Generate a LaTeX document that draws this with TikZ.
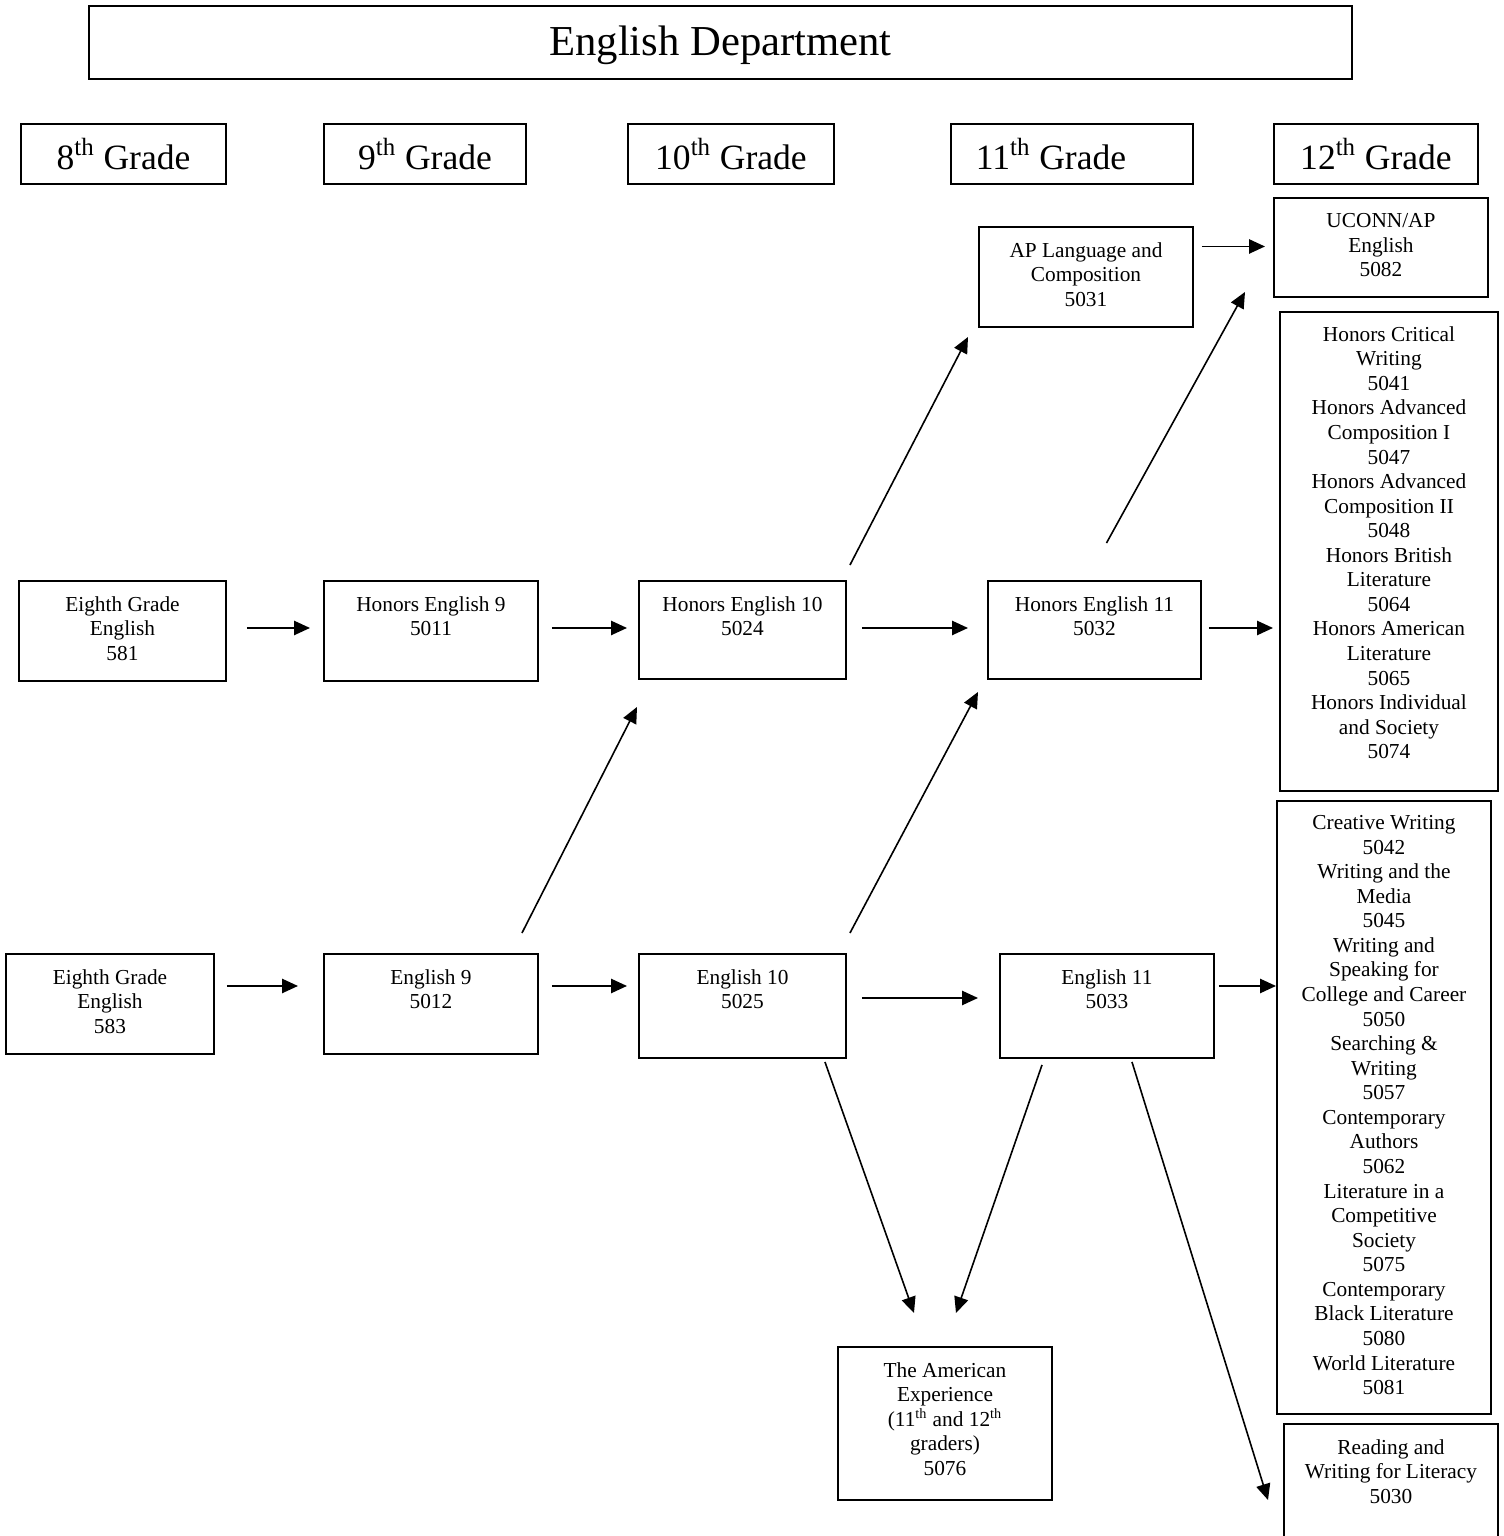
\documentclass[tikz,border=0pt]{standalone}
\usepackage{fontspec}
\setmainfont{Liberation Serif}
\usetikzlibrary{arrows.meta,positioning,calc}
\newlength{\px}\setlength{\px}{0.5625pt}

\tikzset{
  course/.style n args={2}{draw, line width=1.1pt, anchor=north west, inner sep=0pt,
    minimum width=#1\px, minimum height=#2\px},
  coursetext/.style={anchor=north, align=center, inner sep=0pt},
  flow/.style={line width=1.1pt, -{Triangle[length=9pt,width=8pt]}},
  diag/.style={line width=0.9pt, -{Triangle[length=9pt,width=8pt]}},
}

\begin{document}
\begin{tikzpicture}[x=0.5625pt, y=-0.5625pt, every node/.style={font=\fontsize{12}{13.82}\selectfont}]
        \clip (0,0) rectangle (1503,1536);
        % Heading
        \node[course={1263}{73}, font=\fontsize{24}{28}\selectfont, inner ysep=0pt, text depth=2pt] (title) at (88,5) {English Department};
        % Grades
        \node[course={205}{60}, font=\fontsize{20}{24}\selectfont] (g8) at (20,123) {8\textsuperscript{th} Grade};
        \node[course={202}{60}, font=\fontsize{20}{24}\selectfont] (g9) at (323,123) {9\textsuperscript{th} Grade};
        \node[course={206}{60}, font=\fontsize{20}{24}\selectfont] (g10) at (627,123) {10\textsuperscript{th} Grade};
        \node[course={242}{60}, font=\fontsize{20}{24}\selectfont] (g11) at (950,123) {11\textsuperscript{th} Grade\hspace*{42\px}};
        \node[course={204}{60}, font=\fontsize{20}{24}\selectfont] (g12) at (1273,123) {12\textsuperscript{th} Grade};
        % Honors track
        \node[course={207}{100}] (r581) at (18,580) {};
        \node[coursetext] (r581t) at ($(r581.north)+(0,16)$) {Eighth Grade\\English\\581};
        \node[course={214}{100}] (h9) at (323,580) {};
        \node[coursetext] (h9t) at ($(h9.north)+(0,16)$) {Honors English 9\\5011};
        \node[course={207}{98}] (h10) at (638,580) {};
        \node[coursetext] (h10t) at ($(h10.north)+(0,16)$) {Honors English 10\\5024};
        \node[course={213}{98}] (h11) at (987,580) {};
        \node[coursetext] (h11t) at ($(h11.north)+(0,16)$) {Honors English 11\\5032};
        \node[course={214}{100}] (aplang) at (978,226) {};
        \node[coursetext] (aplangt) at ($(aplang.north)+(0,16)$) {AP Language and\\Composition\\5031};
        \node[course={214}{99}] (uconn) at (1273,197) {};
        \node[coursetext] (uconnt) at ($(uconn.north)+(0,16)$) {UCONN/AP\\English\\5082};
        \node[course={218}{479}] (hlist) at (1279,311) {};
        \node[coursetext] (hlistt) at ($(hlist.north)+(0,15)$) {Honors Critical\\Writing\\5041\\Honors Advanced\\Composition I\\5047\\Honors Advanced\\Composition II\\5048\\Honors British\\Literature\\5064\\Honors American\\Literature\\5065\\Honors Individual\\and Society\\5074};
        % Standard track
        \node[course={208}{100}] (r583) at (5,953) {};
        \node[coursetext] (r583t) at ($(r583.north)+(0,16)$) {Eighth Grade\\English\\583};
        \node[course={214}{100}] (e9) at (323,953) {};
        \node[coursetext] (e9t) at ($(e9.north)+(0,16)$) {English 9\\5012};
        \node[course={207}{104}] (e10) at (638,953) {};
        \node[coursetext] (e10t) at ($(e10.north)+(0,16)$) {English 10\\5025};
        \node[course={214}{104}] (e11) at (999,953) {};
        \node[coursetext] (e11t) at ($(e11.north)+(0,16)$) {English 11\\5033};
        \node[course={214}{613}] (slist) at (1276,800) {};
        \node[coursetext] (slistt) at ($(slist.north)+(0,15)$) {Creative Writing\\5042\\Writing and the\\Media\\5045\\Writing and\\Speaking for\\College and Career\\5050\\Searching \&\\Writing\\5057\\Contemporary\\Authors\\5062\\Literature in a\\Competitive\\Society\\5075\\Contemporary\\Black Literature\\5080\\World Literature\\5081};
        \node[course={214}{153}] (amexp) at (837,1346) {};
        \node[coursetext] (amexpt) at ($(amexp.north)+(0,16)$) {The American\\Experience\\(11\textsuperscript{th} and 12\textsuperscript{th}\\graders)\\5076};
        \node[course={214}{140}] (read) at (1283,1423) {};
        \node[coursetext] (readt) at ($(read.north)+(0,16)$) {Reading and\\Writing for Literacy\\5030};
        % Straight moves
        \draw[flow] ($(r581.east)+(20,-3)$) -- ($(h9.west)+(-13,-3)$);
        \draw[flow] ($(h9.east)+(13,-3)$) -- ($(h10.west)+(-11,-2)$);
        \draw[flow] ($(h10.east)+(15,-2)$) -- ($(h11.west)+(-19,-2)$);
        \draw[flow] ($(h11.east)+(7,-2)$) -- ($(h11.east -| hlist.west)+(-6,-2)$);
        \draw[flow] ($(aplang.east |- uconn.west)+(8,-1)$) -- ($(uconn.west)+(-8,-1)$);
        \draw[flow] ($(r583.east)+(12,-18)$) -- ($(e9.west)+(-25,-18)$);
        \draw[flow] ($(e9.east)+(13,-18)$) -- ($(e10.west)+(-11,-20)$);
        \draw[flow] ($(e10.east)+(15,-8)$) -- ($(e11.west)+(-21,-8)$);
        \draw[flow] ($(e11.east)+(4,-20)$) -- ($(e11.east -| slist.west)+(0,-20)$);
        % Moves up and down
        \draw[diag] ($(e9.north east)+(-17,-20)$) -- ($(h10.south west)+(-1,27)$);
        \draw[diag] ($(h10.north east)+(3,-15)$) -- ($(aplang.south west)+(-10,9)$);
        \draw[diag] ($(e10.north east)+(3,-20)$) -- ($(h11.south west)+(-9,12)$);
        \draw[diag] ($(h11.north)+(12,-37)$) -- ($(uconn.south west)+(-28,-6)$);
        \draw[diag] ($(e10.south east)+(-22,3)$) -- ($(amexp.north)+(-31,-33)$);
        \draw[diag] ($(e11.south west)+(43,6)$) -- ($(amexp.north)+(11,-33)$);
        \draw[diag] ($(e11.south)+(25,3)$) -- ($(read.north west)+(-15,77)$);
    \end{tikzpicture}
\end{document}
